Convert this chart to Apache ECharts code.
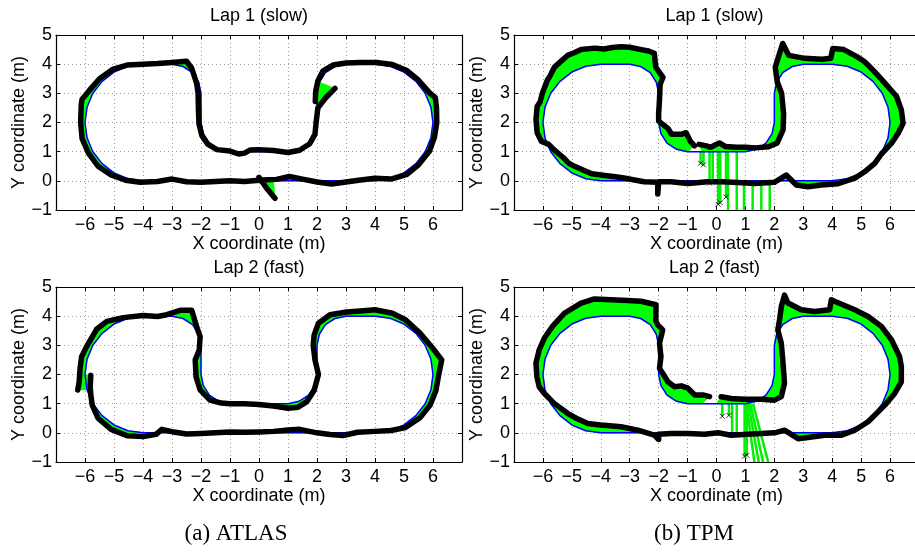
<!DOCTYPE html>
<html><head><meta charset="utf-8">
<script src="https://cdn.jsdelivr.net/npm/echarts@6/dist/echarts.min.js"></script>
<style>html,body{margin:0;padding:0;background:#fff}#c{width:915px;height:552px}</style>
</head><body><div id="c"></div>
<script>
// ---------- data ----------
const xTicks = [-6,-5,-4,-3,-2,-1,0,1,2,3,4,5,6];
const yTicks = [-1,0,1,2,3,4,5];
const titles = ['Lap 1 (slow)', 'Lap 1 (slow)', 'Lap 2 (fast)', 'Lap 2 (fast)'];
const captions = ['(a) ATLAS', '(b) TPM'];
const xName = 'X coordinate (m)';
const yName = 'Y coordinate (m)';

const groundTruth = [
 [-4,0],[-4.52,0.07],[-5,0.27],[-5.41,0.59],[-5.73,1.0],[-5.93,1.48],[-6,2],[-5.93,2.52],[-5.73,3.0],[-5.41,3.41],
 [-5,3.73],[-4.52,3.93],[-4,4],[-3.5,4],[-3,4],[-2.62,3.92],[-2.29,3.71],[-2.08,3.38],[-2,3],[-2,2.5],
 [-2,2],[-1.92,1.62],[-1.71,1.29],[-1.38,1.08],[-1,1],[-0.5,1],[0,1],[0.5,1],[1,1],[1.38,1.08],
 [1.71,1.29],[1.92,1.62],[2,2],[2,2.5],[2,3],[2.08,3.38],[2.29,3.71],[2.62,3.92],[3,4],[3.5,4],
 [4,4],[4.52,3.93],[5,3.73],[5.41,3.41],[5.73,3.0],[5.93,2.52],[6,2],[5.93,1.48],[5.73,1.0],[5.41,0.59],
 [5,0.27],[4.52,0.07],[4,0],[3.5,0],[3,0],[2.5,0],[2,0],[1.5,0],[1,0],[0.5,0],
 [0,0],[-0.5,0],[-1,0],[-1.5,0],[-2,0],[-2.5,0],[-3,0],[-3.5,0],[-4,0]
];

// estimated trajectories: [x, y, index of matched ground-truth point]; null = gap
const atlasLap1 = [
 [-4.1,-0.05,0],[-4.6,0.02,1],[-5.1,0.2,2],[-5.55,0.5,3],[-5.88,0.95,4],[-6.1,1.45,5],[-6.15,2.0,6],[-6.13,2.6,7],
 [-6.1,2.8,7],[-5.85,3.1,8],[-5.5,3.5,9],[-5.05,3.82,10],[-4.55,3.97,11],[-4.0,4.0,12],[-3.5,4.02,13],[-3.0,4.06,14],
 [-2.5,4.1,15],[-2.32,3.86,16],[-2.15,3.34,17],[-2.1,3.0,18],[-2.09,2.5,19],[-2.07,1.95,20],[-1.97,1.55,21],
 [-1.78,1.27,22],[-1.45,1.07,23],[-1.0,1.02,24],[-0.7,0.92,24],[-0.5,0.95,25],[-0.3,1.06,25],[0,1.07,26],
 [0.5,1.04,27],[1,0.97,28],[1.4,1.05,29],[1.75,1.27,30],[1.93,1.6,31],[1.97,2.0,32],[2.03,2.5,33],[2.3,2.85,34],
 [2.62,3.17,35],null,[1.94,2.72,34],[1.96,3.1,34],[2.03,3.42,35],[2.2,3.76,36],[2.55,3.97,37],[3.0,4.04,38],
 [3.5,4.06,39],[4.05,4.06,40],[4.6,3.99,41],[5.1,3.78,42],[5.5,3.45,43],[5.9,3.0,44],[6.08,2.85,44],[6.12,2.5,45],
 [6.13,2.0,46],[6.05,1.5,47],[5.88,1.02,48],[5.5,0.55,49],[5.1,0.22,50],[4.55,0.06,51],[4.0,0.09,52],[3.5,0.03,53],
 [3.0,-0.04,54],[2.5,-0.11,55],[2.0,-0.04,56],[1.5,0.06,57],[1.05,0.15,58],[0.6,0.05,59],[0.1,0.03,60],null,
 [0.0,0.12,60],[0.3,-0.3,59],[0.55,-0.6,59],null,[0.0,0.02,60],[-0.5,-0.02,61],[-1.0,0.0,62],[-1.5,-0.02,63],
 [-2.0,-0.05,64],[-2.5,-0.03,65],[-3.0,0.06,66],[-3.5,-0.02,67],[-4.1,-0.05,68]
];
const atlasLap2 = [
 [-4.0,-0.13,0],[-4.55,-0.1,1],[-5.1,0.12,2],[-5.55,0.5,3],[-5.75,0.95,4],[-5.8,1.3,5],[-5.82,1.6,5],[-5.8,1.97,6],
 null,[-6.25,1.47,5],[-6.2,1.75,6],[-6.17,2.2,6],[-6.12,2.6,7],[-5.95,2.95,8],[-5.6,3.55,9],[-5.25,3.82,10],
 [-4.68,3.95,11],[-4.0,4.02,12],[-3.5,3.99,13],[-3.18,4.05,14],[-2.72,4.2,14],[-2.32,4.2,15],[-2.15,3.64,16],
 [-2.03,3.3,17],[-2.06,2.84,18],[-2.2,2.5,19],[-2.17,1.92,20],[-2.03,1.47,21],[-1.69,1.12,22],[-1.3,1.02,23],
 [-1.0,1.0,24],[-0.5,1.0,25],[0,0.97,26],[0.5,0.92,27],[1.0,0.84,28],[1.35,0.88,29],[1.64,1.06,30],[1.9,1.45,31],
 [2.05,2.0,32],[1.93,2.5,33],[1.87,3.0,34],[1.9,3.35,35],[2.05,3.76,36],[2.45,4.05,37],[3.02,4.14,38],[3.5,4.18,39],
 [4.0,4.22,40],[4.6,4.1,41],[5.05,3.88,42],[5.55,3.42,43],[5.95,2.95,44],[6.3,2.5,45],[6.2,2.0,46],[6.1,1.45,47],
 [5.9,0.95,48],[5.55,0.52,49],[5.05,0.18,50],[4.55,0.08,51],[4.0,0.05,52],[3.4,0.02,53],[2.9,-0.09,54],
 [2.45,-0.06,55],[2.0,0.0,56],[1.4,0.12,57],[1.0,0.1,58],[0.5,0.05,59],[0.0,0.03,60],[-0.5,0.02,61],[-1.0,0.03,62],
 [-1.5,0.0,63],[-2.0,-0.02,64],[-2.5,-0.04,65],[-3.0,0.04,66],[-3.35,0.12,67],[-3.55,-0.05,67],[-4.0,-0.13,68]
];
const tpmLap1 = [
 [-4.0,0.2,0],[-4.3,0.24,1],[-4.5,0.32,1],[-4.95,0.52,2],[-5.1,0.6,2],[-5.3,0.8,3],[-5.6,1.05,4],[-5.8,1.25,4],
 [-6.05,1.35,5],[-6.2,1.65,5],[-6.24,2.1,6],[-6.2,2.55,7],[-6.1,2.7,7],[-6.02,3.0,8],[-5.85,3.45,9],[-5.75,3.6,9],
 [-5.6,3.9,10],[-5.35,4.12,10],[-5.15,4.3,11],[-4.9,4.4,11],[-4.68,4.5,12],[-4.2,4.55,12],[-3.9,4.52,13],
 [-3.6,4.57,13],[-3.3,4.6,14],[-3.0,4.58,14],[-2.6,4.5,15],[-2.35,4.45,16],[-2.15,4.37,16],[-2.1,3.9,17],
 [-1.85,3.55,17],[-1.95,3.3,18],[-1.97,2.8,18],[-2.0,2.3,19],[-2.0,2.05,20],[-1.68,1.8,21],[-1.55,1.6,22],
 [-1.2,1.6,23],[-1.05,1.65,23],[-0.9,1.35,24],[-0.76,1.2,24],null,[-0.6,1.25,25],[-0.35,1.2,25],[-0.2,1.15,26],
 [0.1,1.3,26],[0.3,1.18,27],[0.7,1.15,27],[1.0,1.15,28],[1.35,1.13,29],[1.8,1.17,30],[2.1,1.3,31],[2.3,1.75,32],
 [2.32,2.3,33],[2.25,3.0,34],[2.1,3.4,34],[2.03,3.9,35],[2.29,4.71,36],[2.5,4.3,37],[3.05,4.2,38],[3.65,4.17,39],
 [3.95,4.2,40],[4.02,4.54,40],[4.4,4.5,41],[4.85,4.26,42],[5.1,4.1,42],[5.3,3.91,43],[5.55,3.65,43],
 [5.82,3.35,44],[6.22,2.9,45],[6.39,2.43,46],[6.45,1.97,46],[6.28,1.63,47],[6.05,1.29,48],[5.7,0.92,48],
 [5.47,0.6,49],[5.12,0.31,50],[4.78,0.09,51],[4.2,-0.1,52],[3.62,-0.14,53],[3.16,-0.2,54],[2.76,-0.14,55],
 [2.41,0.2,56],[2.0,-0.05,56],[1.32,-0.09,57],[0.74,-0.06,59],[0.16,-0.03,60],[-0.3,-0.03,61],[-1.0,-0.09,62],
 [-1.57,-0.03,63],[-2.0,-0.03,64],[-2.03,-0.45,64],[-2.03,-0.05,64],[-2.5,-0.03,65],[-2.84,0.03,66],
 [-3.2,0.1,66],[-3.5,0.14,67],[-4.0,0.2,68]
];
const tpmLap2 = [
 [-3.95,0.26,0],[-4.45,0.32,1],[-4.85,0.5,2],[-5.15,0.67,2],[-5.61,1.01,3],[-5.95,1.35,4],[-6.13,1.58,5],
 [-6.21,1.93,6],[-6.24,2.39,7],[-6.13,2.84,7],[-5.95,3.25,8],[-5.67,3.65,9],[-5.26,4.1,10],[-4.68,4.45,11],
 [-4.22,4.59,12],[-3.65,4.56,13],[-3.07,4.54,14],[-2.61,4.51,15],[-2.09,4.39,16],[-2.1,3.85,17],[-2.03,3.7,17],
 [-1.86,3.53,17],[-1.97,3.07,18],[-1.92,2.61,19],[-1.97,2.21,20],[-1.86,2.04,20],[-1.68,1.75,21],[-1.45,1.58,22],
 [-1.22,1.61,23],[-0.99,1.53,23],[-0.75,1.3,24],[-0.47,1.3,25],[-0.24,1.24,25],null,[0.16,1.24,26],
 [0.51,1.18,27],[0.97,1.15,28],[1.55,1.15,29],[2.01,1.12,30],[2.24,1.24,31],[2.35,1.7,32],[2.3,2.39,33],
 [2.24,3.07,34],[2.12,3.53,34],[2.18,3.88,35],[2.24,4.33,36],[2.35,4.72,36],[2.47,4.45,37],[2.93,4.22,38],
 [3.39,4.16,39],[3.91,4.22,40],[3.97,4.56,40],[4.08,4.51,41],[4.78,4.22,42],[5.24,3.99,43],[5.7,3.65,43],
 [6.05,3.19,44],[6.33,2.61,45],[6.39,2.27,46],[6.39,1.75,47],[6.16,1.35,48],[5.82,0.95,49],[5.24,0.38,50],
 [4.78,0.09,51],[4.32,-0.08,52],[3.74,-0.08,53],[3.16,-0.16,54],[2.82,-0.2,55],[2.35,0.09,56],[2.01,0.0,56],
 [1.55,-0.02,57],[1.08,-0.05,58],[0.51,-0.08,59],[0.05,0.0,60],[-0.42,-0.05,61],[-0.99,-0.02,62],
 [-1.57,-0.02,63],[-2.0,-0.05,64],[-2.0,-0.23,64],[-2.15,-0.08,64],[-2.72,0.09,65],[-3.3,0.21,66],
 [-3.88,0.26,67],[-3.95,0.26,68]
];
// outlier estimates: [truthX, truthY, estX, estY]
const tpmLap1Outliers = [
 [-0.55,1,-0.55,0.6],[-0.45,1,-0.45,0.55],[-0.24,1,-0.24,-0.08],[-0.13,1,-0.13,-0.05],[0.05,1,0.06,-0.8],
 [0.13,1,0.13,-0.75],[0.33,1,0.33,-0.55],[0.4,1,0.4,-1.4],[0.7,1,0.7,-1.4],[0.95,0,0.95,-1.5],
 [1.25,0,1.25,-1.5],[1.55,0,1.55,-1.5],[1.84,0,1.84,-1.5]
];
const tpmLap2Outliers = [
 [0.2,1,0.2,0.57],[0.43,1,0.43,0.6],[0.54,1,0.54,-0.06],[0.7,1,0.7,-0.06],[0.97,1,0.97,-0.8],
 [1.04,1,1.05,-0.77],[1.03,1,1.38,-1.5],[1.1,1,1.55,-1.5],[1.17,1,1.72,-1.5],[1.26,1,1.92,-1.5]
];

// ---------- chart ----------
const FONT = '"Liberation Sans", Arial, Helvetica, sans-serif';
const plots = [
  {est: atlasLap1, out: []},
  {est: tpmLap1, out: tpmLap1Outliers},
  {est: atlasLap2, out: []},
  {est: tpmLap2, out: tpmLap2Outliers}
];
const gridRects = [
  {left: 56, top: 35, width: 406, height: 175},
  {left: 514, top: 35, width: 405, height: 175},
  {left: 56, top: 287, width: 406, height: 175},
  {left: 514, top: 287, width: 405, height: 175}
];
const fmt = v => (v < 0 ? '\u2212' + Math.abs(v) : String(v));

const grid = [], xAxis = [], yAxis = [], series = [], graphic = [];
gridRects.forEach((r, i) => {
  grid.push(Object.assign({containLabel: false, outerBoundsMode: 'none', show: false}, r));
  const common = {
    type: 'value', gridIndex: i,
    axisLine: {show: true, onZero: false, lineStyle: {color: '#000', width: 1.2}},
    axisTick: {show: true, inside: true, length: 4, lineStyle: {color: '#000'}}
  };
  xAxis.push(Object.assign({}, common, {
    position: 'bottom', min: -7, max: 7, interval: 1,
    axisLabel: {show: true, margin: 6, color: '#000', fontSize: 18, fontFamily: FONT,
      formatter: v => (xTicks.indexOf(v) >= 0 ? fmt(v) : '')},
    splitLine: {show: true, lineStyle: {color: '#9a9a9a', type: [1, 3], width: 1}},
    name: xName, nameLocation: 'middle', nameGap: 20,
    nameTextStyle: {color: '#000', fontSize: 18, fontFamily: FONT}
  }));
  xAxis.push(Object.assign({}, common, {
    position: 'top', min: -7, max: 7, interval: 1,
    axisLabel: {show: false}, splitLine: {show: false}
  }));
  yAxis.push(Object.assign({}, common, {
    position: 'left', min: -1, max: 5, interval: 1,
    axisLabel: {show: true, margin: 4, color: '#000', fontSize: 18, fontFamily: FONT,
      formatter: v => (yTicks.indexOf(v) >= 0 ? fmt(v) : '')},
    splitLine: {show: true, lineStyle: {color: '#9a9a9a', type: [1, 3], width: 1}},
    name: yName, nameLocation: 'middle', nameGap: 28,
    nameTextStyle: {color: '#000', fontSize: 18, fontFamily: FONT}
  }));
  yAxis.push(Object.assign({}, common, {
    position: 'right', min: -1, max: 5, interval: 1,
    axisLabel: {show: false}, splitLine: {show: false}
  }));

  const p = plots[i];
  const ax = {xAxisIndex: 2 * i, yAxisIndex: 2 * i};
  // green error fill between estimate and truth
  const quads = [];
  for (let k = 0; k < p.est.length - 1; k++) {
    const a = p.est[k], b = p.est[k + 1];
    if (!a || !b) continue;
    const ga = groundTruth[a[2]], gb = groundTruth[b[2]];
    quads.push([a[0], a[1], b[0], b[1], ga[0], ga[1], gb[0], gb[1]]);
  }
  series.push(Object.assign({
    type: 'custom', clip: true, z: 1, silent: true,
    data: quads,
    encode: {x: [0, 2, 4, 6], y: [1, 3, 5, 7]},
    renderItem: (params, api) => {
      const pts = [[0, 1], [2, 3], [6, 7], [4, 5]].map(d => api.coord([api.value(d[0]), api.value(d[1])]));
      return {type: 'polygon', shape: {points: pts},
        style: {fill: '#00ff00', stroke: '#00ff00', lineWidth: 0.8}};
    }
  }, ax));
  if (p.out.length) {
    series.push(Object.assign({
      type: 'custom', clip: true, z: 2, silent: true,
      data: p.out,
      encode: {x: [0, 2], y: [1, 3]},
      renderItem: (params, api) => {
        const s = api.coord([api.value(0), api.value(1)]);
        const e = api.coord([api.value(2), api.value(3)]);
        return {type: 'line', shape: {x1: s[0], y1: s[1], x2: e[0], y2: e[1]},
          style: {stroke: '#00f000', lineWidth: 2.5}};
      }
    }, ax));
    series.push(Object.assign({
      type: 'scatter', z: 5, silent: true,
      symbol: 'path://M0,0L10,10M10,0L0,10', symbolSize: 5,
      itemStyle: {color: 'none', borderColor: '#000', borderWidth: 1},
      data: p.out.filter(o => o[3] >= -1).map(o => [o[2], o[3]])
    }, ax));
  }
  series.push(Object.assign({
    type: 'line', z: 3, silent: true, symbol: 'none', showSymbol: false,
    data: groundTruth.map(g => [g[0], g[1]]),
    lineStyle: {color: '#0000ff', width: 1.5}
  }, ax));
  series.push(Object.assign({
    type: 'line', z: 4, silent: true, symbol: 'none', showSymbol: false, connectNulls: false,
    data: p.est.map(e => (e ? [e[0], e[1]] : ['-', '-'])),
    lineStyle: {color: '#000', width: 5.5, join: 'round', cap: 'round'}
  }, ax));

  graphic.push({type: 'text', x: r.left + r.width / 2 - (i % 2 ? 2 : 0), y: r.top - 19,
    style: {text: titles[i], fill: '#000', font: '18px ' + FONT, align: 'center', verticalAlign: 'middle'}});
});
graphic.push({type: 'text', x: 236, y: 534,
  style: {text: captions[0], fill: '#000', font: '23px "Liberation Serif", serif', align: 'center', verticalAlign: 'middle'}});
graphic.push({type: 'text', x: 694, y: 534,
  style: {text: captions[1], fill: '#000', font: '23px "Liberation Serif", serif', align: 'center', verticalAlign: 'middle'}});

const chart = echarts.init(document.getElementById('c'), null, {renderer: 'canvas'});
chart.setOption({animation: false, backgroundColor: '#fff', grid, xAxis, yAxis, series, graphic});
</script>
</body></html>
